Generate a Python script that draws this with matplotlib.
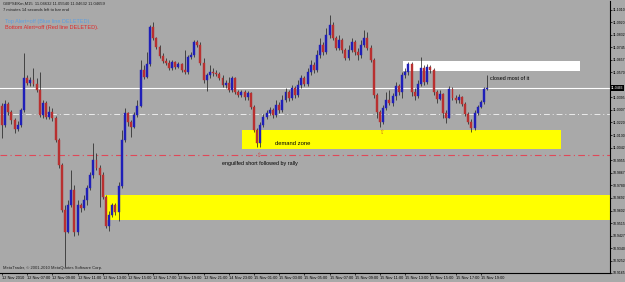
import numpy as np
import matplotlib
matplotlib.use("Agg")
import matplotlib.pyplot as plt
from matplotlib.patches import Rectangle

plt.rcParams['font.family'] = ['Liberation Sans', 'DejaVu Sans']

# GBPSEK M15 candles (price), open = previous close
first_open = 11.0335
close = [11.0202, 11.0349, 11.0293, 11.0237, 11.0174, 11.0202, 11.0307, 11.0531, 11.0496, 11.0517,
         11.0489, 11.0447, 11.0272, 11.0356, 11.0258, 11.0293, 11.0251, 11.0097, 10.9922, 10.9607,
         10.9453, 10.9642, 10.9747, 10.9453, 10.9642, 10.9621, 10.9677, 10.9761, 10.9852, 10.9957,
         10.9901, 10.9852, 10.9698, 10.9495, 10.9572, 10.9642, 10.9593, 10.9775, 11.0097, 11.0286,
         11.0223, 11.0188, 11.0272, 11.0335, 11.0587, 11.0538, 11.0629, 11.0888, 11.0811, 11.0748,
         11.0685, 11.0650, 11.0636, 11.0601, 11.0643, 11.0608, 11.0629, 11.0587, 11.0573, 11.0678,
         11.0692, 11.0783, 11.0762, 11.0636, 11.0517, 11.0552, 11.0573, 11.0566, 11.0559, 11.0531,
         11.0482, 11.0496, 11.0447, 11.0531, 11.0433, 11.0412, 11.0433, 11.0398, 11.0426, 11.0328,
         11.0167, 11.0076, 11.0202, 11.0258, 11.0286, 11.0307, 11.0272, 11.0342, 11.0307, 11.0377,
         11.0433, 11.0391, 11.0461, 11.0412, 11.0482, 11.0531, 11.0489, 11.0573, 11.0622, 11.0587,
         11.0692, 11.0762, 11.0713, 11.0832, 11.0902, 11.0811, 11.0741, 11.0797, 11.0727, 11.0671,
         11.0727, 11.0783, 11.0713, 11.0692, 11.0762, 11.0811, 11.0741, 11.0657, 11.0412, 11.0293,
         11.0223, 11.0321, 11.0377, 11.0356, 11.0405, 11.0475, 11.0433, 11.0552, 11.0573, 11.0629,
         11.0433, 11.0405, 11.0489, 11.0601, 11.0503, 11.0608, 11.0587, 11.0433, 11.0384, 11.0419,
         11.0286, 11.0251, 11.0454, 11.0391, 11.0377, 11.0398, 11.0349, 11.0279, 11.0223, 11.0181,
         11.0286, 11.0328, 11.0363, 11.0454, 11.0461]
high = [11.0356, 11.0377, 11.0363, 11.0307, 11.0251, 11.0230, 11.0321, 11.0706, 11.0552, 11.0538,
        11.0601, 11.0531, 11.0573, 11.0377, 11.0370, 11.0335, 11.0321, 11.0265, 11.0111, 10.9936,
        10.9642, 10.9677, 10.9887, 10.9782, 10.9677, 10.9656, 10.9712, 10.9782, 10.9873, 11.0076,
        11.0006, 10.9922, 10.9873, 10.9712, 10.9600, 10.9656, 10.9656, 10.9803, 11.0167, 11.0321,
        11.0293, 11.0237, 11.0293, 11.0377, 11.0657, 11.0622, 11.0713, 11.0902, 11.0923, 11.0818,
        11.0762, 11.0706, 11.0671, 11.0657, 11.0657, 11.0650, 11.0643, 11.0636, 11.0727, 11.0692,
        11.0713, 11.0797, 11.0797, 11.0783, 11.0671, 11.0566, 11.0622, 11.0601, 11.0587, 11.0573,
        11.0552, 11.0517, 11.0538, 11.0545, 11.0538, 11.0447, 11.0447, 11.0447, 11.0440, 11.0433,
        11.0342, 11.0181, 11.0223, 11.0279, 11.0307, 11.0328, 11.0321, 11.0377, 11.0363, 11.0412,
        11.0461, 11.0447, 11.0482, 11.0475, 11.0517, 11.0552, 11.0545, 11.0601, 11.0657, 11.0643,
        11.0727, 11.0811, 11.0783, 11.0881, 11.0972, 11.0923, 11.0825, 11.0832, 11.0811, 11.0741,
        11.0762, 11.0811, 11.0797, 11.0741, 11.0797, 11.0867, 11.0853, 11.0762, 11.0671, 11.0426,
        11.0307, 11.0342, 11.0433, 11.0447, 11.0426, 11.0503, 11.0489, 11.0573, 11.0601, 11.0643,
        11.0643, 11.0461, 11.0517, 11.0678, 11.0622, 11.0629, 11.0622, 11.0601, 11.0447, 11.0447,
        11.0426, 11.0307, 11.0475, 11.0468, 11.0412, 11.0419, 11.0405, 11.0363, 11.0293, 11.0244,
        11.0307, 11.0342, 11.0377, 11.0468, 11.0552]
low = [11.0111, 11.0188, 11.0272, 11.0209, 11.0146, 11.0160, 11.0188, 11.0293, 11.0482, 11.0475,
       11.0475, 11.0433, 11.0258, 11.0251, 11.0244, 11.0244, 11.0230, 11.0083, 10.9901, 10.9593,
       10.9208, 10.9446, 10.9628, 10.9425, 10.9432, 10.9593, 10.9607, 10.9642, 10.9747, 10.9831,
       10.9887, 10.9628, 10.9684, 10.9481, 10.9460, 10.9558, 10.9572, 10.9530, 10.9761, 11.0083,
       11.0195, 11.0118, 11.0181, 11.0258, 11.0328, 11.0524, 11.0531, 11.0615, 11.0797, 11.0734,
       11.0671, 11.0636, 11.0622, 11.0587, 11.0587, 11.0594, 11.0601, 11.0573, 11.0559, 11.0559,
       11.0664, 11.0678, 11.0748, 11.0622, 11.0496, 11.0440, 11.0531, 11.0545, 11.0545, 11.0517,
       11.0468, 11.0461, 11.0433, 11.0433, 11.0419, 11.0398, 11.0398, 11.0377, 11.0377, 11.0314,
       11.0153, 11.0048, 11.0048, 11.0188, 11.0244, 11.0272, 11.0251, 11.0258, 11.0286, 11.0293,
       11.0363, 11.0370, 11.0377, 11.0391, 11.0398, 11.0461, 11.0475, 11.0475, 11.0552, 11.0566,
       11.0573, 11.0671, 11.0692, 11.0699, 11.0811, 11.0797, 11.0727, 11.0727, 11.0706, 11.0657,
       11.0657, 11.0713, 11.0692, 11.0657, 11.0671, 11.0748, 11.0727, 11.0643, 11.0391, 11.0251,
       11.0188, 11.0209, 11.0307, 11.0342, 11.0335, 11.0377, 11.0412, 11.0391, 11.0531, 11.0552,
       11.0405, 11.0377, 11.0391, 11.0475, 11.0482, 11.0489, 11.0566, 11.0412, 11.0356, 11.0377,
       11.0251, 11.0216, 11.0251, 11.0377, 11.0356, 11.0356, 11.0335, 11.0265, 11.0209, 11.0153,
       11.0167, 11.0272, 11.0321, 11.0349, 11.0447]

# price scale labels on the right
price_ticks = [10.9165, 10.9252, 10.9340, 10.9427, 10.9515, 10.9602, 10.9692, 10.9780, 10.9867,
               10.9955, 11.0042, 11.0130, 11.0220, 11.0307, 11.0395, 11.0570, 11.0657, 11.0745,
               11.0832, 11.0920, 11.1010]
time_labels = ["12 Nov 2010", "12 Nov 07:00", "12 Nov 09:00", "12 Nov 11:00", "12 Nov 13:00",
               "12 Nov 15:00", "12 Nov 17:00", "12 Nov 19:00", "12 Nov 21:00", "14 Nov 23:00",
               "15 Nov 01:00", "15 Nov 03:00", "15 Nov 05:00", "15 Nov 07:00", "15 Nov 09:00",
               "15 Nov 11:00", "15 Nov 13:00", "15 Nov 15:00", "15 Nov 17:00", "15 Nov 19:00"]
bars_per_label = 8

# drawn objects
bid_price = 11.0461
grey_line = 11.0279
red_line = 10.9992
white_box = (127.3, 183.5, 11.0580, 11.0650)
demand_box = (76.2, 177.5, 11.0034, 11.0167)
big_box = (32.7, 193.0, 10.9537, 10.9712)

bg = '#a9a9a9'
up_col = '#1f1fb8'
dn_col = '#b83030'

fig = plt.figure(figsize=(6.25, 2.82), dpi=100, facecolor=bg)
ax = fig.add_axes([0, 9 / 282, 610 / 625, 272 / 282], facecolor=bg)

close = np.array(close)
opens = np.r_[first_open, close[:-1]]
idx = np.arange(len(close))

# boxes go under the candles
for x0, x1, y0, y1 in [big_box, demand_box]:
    ax.add_patch(Rectangle((x0, y0), x1 - x0, y1 - y0, facecolor='#ffff00', edgecolor='none', zorder=1))
x0, x1, y0, y1 = white_box
ax.add_patch(Rectangle((x0, y0), x1 - x0, y1 - y0, facecolor='white', edgecolor='none', zorder=1))

# horizontal lines
ax.axhline(bid_price, color='white', lw=0.8, zorder=2)
ax.axhline(grey_line, color='#ececec', lw=0.7, ls=(0, (6, 3, 1, 3)), zorder=2)
ax.axhline(red_line, color='#e04858', lw=0.8, ls=(0, (6, 3, 1, 3)), zorder=2)

# candles
for i in idx:
    o, c = opens[i], close[i]
    col = up_col if c >= o else dn_col
    lo = min(low[i], o, c)
    hi = max(high[i], o, c)
    ax.vlines(i, lo, hi, color='#1a1a1a', lw=0.5, zorder=3)
    ax.bar(i, c - o, bottom=o, width=0.62, color=col, edgecolor=col, lw=0.3, zorder=4)

ax.set_xlim(-0.63, 193.0)
ax.set_ylim(10.9165, 11.1070)

# axes style like the terminal
for s in ['top', 'left']:
    ax.spines[s].set_visible(False)
ax.spines['right'].set_color('black')
ax.spines['bottom'].set_color('black')
ax.spines['right'].set_linewidth(0.8)
ax.spines['bottom'].set_linewidth(0.8)

ax.yaxis.tick_right()
ax.set_yticks(price_ticks)
ax.set_yticklabels(['%.4f' % p for p in price_ticks], fontsize=2.5, color='black')
ax.tick_params(axis='y', length=1.2, width=0.5, pad=0.6)

ax.set_xticks(np.arange(len(time_labels)) * bars_per_label)
ax.set_xticklabels(time_labels, fontsize=2.8, ha='left', color='black')
ax.tick_params(axis='x', length=1.5, width=0.5, pad=1)

# current price tag
ax.text(1.001, bid_price, '11.0466', transform=ax.get_yaxis_transform(), fontsize=2.5, color='white',
        va='center', ha='left', bbox=dict(facecolor='black', edgecolor='none', pad=0.4), zorder=6)

# annotations
ax.text(86.7, 11.0069, 'demand zone', fontsize=4.2, va='center', ha='left', zorder=5)
ax.text(69.8, 10.9929, 'enguilfed short followed by rally', fontsize=3.9, va='center', ha='left', zorder=5)
ax.text(154.9, 11.0524, 'closed most of it', fontsize=3.9, va='center', ha='left', zorder=5)
ax.text(81.3, 10.9985, '\u21e7', fontsize=4, color='#c84040', ha='center', va='center',
        family='DejaVu Sans', zorder=5)
ax.text(120.3, 11.0146, '\u21e7', fontsize=4, color='#d07020', ha='center', va='center',
        family='DejaVu Sans', zorder=5)

# terminal info texts
fig.text(3 / 625, 1 - 4 / 282, 'GBPSEKm,M15  11.04632 11.05540 11.04632 11.04659', fontsize=3.0,
         va='center', ha='left', color='#202020')
fig.text(3 / 625, 1 - 10 / 282, '7 minutes 14 seconds left to bar end', fontsize=3.0,
         va='center', ha='left', color='#202020')
fig.text(5 / 625, 1 - 21 / 282, 'Top Alert=off (Blue line DELETED).', fontsize=4.0,
         va='center', ha='left', color='#5f9fdf')
fig.text(5 / 625, 1 - 28 / 282, 'Bottom Alert=off (Red line DELETED).', fontsize=4.0,
         va='center', ha='left', color='#e02828')
fig.text(3 / 625, 1 - 268 / 282, 'MetaTrader, \u00a9 2001-2010 MetaQuotes Software Corp.', fontsize=3.0,
         va='center', ha='left', color='#202020')

fig.savefig('out.png', dpi=100, facecolor=bg)
